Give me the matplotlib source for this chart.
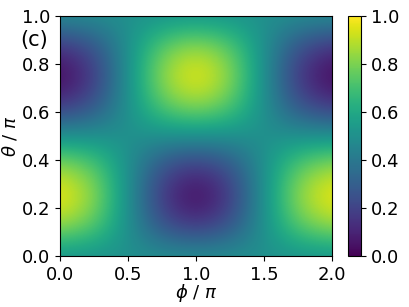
import matplotlib

matplotlib.use("Agg")

import matplotlib.pyplot as plt
import numpy as np

phi_ticks = [0.0, 0.5, 1.0, 1.5, 2.0]
theta_ticks = [0.0, 0.2, 0.4, 0.6, 0.8, 1.0]
cbar_ticks = [0.0, 0.2, 0.4, 0.6, 0.8, 1.0]
phi_samples = [0.0, 0.25, 0.5, 0.75, 1.0, 1.25, 1.5, 1.75, 2.0]
theta_samples = [0.0, 0.125, 0.25, 0.375, 0.5, 0.625, 0.75, 0.875, 1.0]
# rows: theta (bottom -> top), columns: phi (left -> right)
intensity = [
    [0.50, 0.50, 0.50, 0.50, 0.50, 0.50, 0.50, 0.50, 0.50],
    [0.85, 0.75, 0.50, 0.25, 0.15, 0.25, 0.50, 0.75, 0.85],
    [1.00, 0.85, 0.50, 0.15, 0.00, 0.15, 0.50, 0.85, 1.00],
    [0.85, 0.75, 0.50, 0.25, 0.15, 0.25, 0.50, 0.75, 0.85],
    [0.50, 0.50, 0.50, 0.50, 0.50, 0.50, 0.50, 0.50, 0.50],
    [0.15, 0.25, 0.50, 0.75, 0.85, 0.75, 0.50, 0.25, 0.15],
    [0.00, 0.15, 0.50, 0.85, 1.00, 0.85, 0.50, 0.15, 0.00],
    [0.15, 0.25, 0.50, 0.75, 0.85, 0.75, 0.50, 0.25, 0.15],
    [0.50, 0.50, 0.50, 0.50, 0.50, 0.50, 0.50, 0.50, 0.50],
]

plt.rcParams["font.size"] = 13

fig = plt.figure(figsize=(4.09, 3.07), dpi=100)
ax = fig.add_axes([0.147, 0.166, 0.665, 0.782])
cax = fig.add_axes([0.851, 0.166, 0.032, 0.782])

dphi = phi_samples[1] - phi_samples[0]
dtheta = theta_samples[1] - theta_samples[0]
im = ax.imshow(
    np.array(intensity),
    origin="lower",
    aspect="auto",
    cmap="viridis",
    vmin=0,
    vmax=1,
    interpolation="bicubic",
    extent=[phi_samples[0] - dphi / 2, phi_samples[-1] + dphi / 2,
            theta_samples[0] - dtheta / 2, theta_samples[-1] + dtheta / 2],
)
ax.set_xlim(0, 2)
ax.set_ylim(0, 1)
ax.set_xticks(phi_ticks)
ax.set_yticks(theta_ticks)
ax.set_xlabel(r"$\phi$ / $\pi$", labelpad=-1)
ax.set_ylabel(r"$\theta$ / $\pi$", labelpad=2)
ax.text(-0.097, 0.9, "(c)", transform=ax.transAxes, ha="center", va="center", fontsize=15)

cb = fig.colorbar(im, cax=cax, ticks=cbar_ticks)

fig.savefig("out.png", dpi=100)
